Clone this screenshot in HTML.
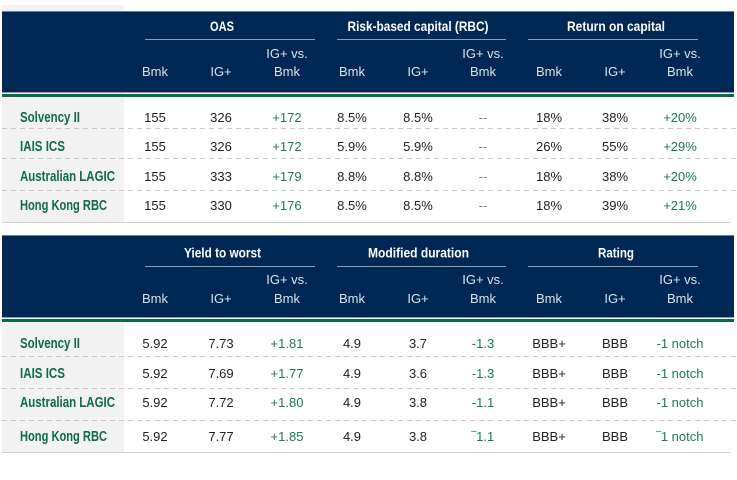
<!DOCTYPE html>
<html><head><meta charset="utf-8"><style>
html,body{margin:0;padding:0;background:#fff;}
svg{display:block;}
text{font-family:"Liberation Sans",Arial,sans-serif;font-size:13px;}
.h{fill:#fff;font-weight:bold;text-anchor:middle;font-size:14px;}
.s{fill:#dde3ec;text-anchor:middle;}
.l{fill:#0e6b4a;font-weight:bold;font-size:14.5px;}
.v{fill:#222;text-anchor:middle;}
.g{fill:#1b7a52;text-anchor:middle;}
.d{fill:#5f8f7c;text-anchor:middle;}
</style></head><body>
<svg width="737" height="480" viewBox="0 0 737 480" xmlns="http://www.w3.org/2000/svg">
<!-- TOP TABLE -->
<rect x="2" y="5" width="122" height="217" fill="#f2f2f2"/>
<rect x="2" y="11" width="732" height="82" fill="#002855"/>
<rect x="2" y="11" width="732" height="1" fill="#6a7f9c"/>
<rect x="2" y="92" width="732" height="1" fill="#8a9bb3"/>
<rect x="2" y="94" width="732" height="3" fill="#0b6b47"/>
<line x1="145" y1="39.5" x2="315" y2="39.5" stroke="#8c9db5" stroke-width="1"/>
<line x1="337" y1="39.5" x2="506" y2="39.5" stroke="#8c9db5" stroke-width="1"/>
<line x1="528" y1="39.5" x2="698" y2="39.5" stroke="#8c9db5" stroke-width="1"/>
<text class="h" x="222" y="31" textLength="24" lengthAdjust="spacingAndGlyphs">OAS</text>
<text class="h" x="418" y="31" textLength="141" lengthAdjust="spacingAndGlyphs">Risk-based capital (RBC)</text>
<text class="h" x="616" y="31" textLength="98" lengthAdjust="spacingAndGlyphs">Return on capital</text>
<text class="s" x="287" y="58">IG+ vs.</text><text class="s" x="483" y="58">IG+ vs.</text><text class="s" x="680" y="58">IG+ vs.</text>
<text class="s" x="155" y="76">Bmk</text><text class="s" x="221" y="76">IG+</text><text class="s" x="287" y="76">Bmk</text>
<text class="s" x="352" y="76">Bmk</text><text class="s" x="418" y="76">IG+</text><text class="s" x="483" y="76">Bmk</text>
<text class="s" x="549" y="76">Bmk</text><text class="s" x="615" y="76">IG+</text><text class="s" x="680" y="76">Bmk</text>

<g stroke="#c8c8c8" stroke-width="1" stroke-dasharray="5 4">
<line x1="2" y1="128.5" x2="737" y2="128.5"/>
<line x1="2" y1="158.5" x2="737" y2="158.5"/>
<line x1="2" y1="190.5" x2="737" y2="190.5"/>
</g>
<line x1="2" y1="222.5" x2="730" y2="222.5" stroke="#cfcfcf" stroke-width="1"/>

<text class="l" x="20" y="122" textLength="60" lengthAdjust="spacingAndGlyphs">Solvency II</text>
<text class="v" x="155" y="122">155</text><text class="v" x="221" y="122">326</text><text class="g" x="287" y="122">+172</text>
<text class="v" x="352" y="122">8.5%</text><text class="v" x="418" y="122">8.5%</text><text class="d" x="483" y="122">--</text>
<text class="v" x="549" y="122">18%</text><text class="v" x="615" y="122">38%</text><text class="g" x="680" y="122">+20%</text>

<text class="l" x="20" y="151" textLength="45" lengthAdjust="spacingAndGlyphs">IAIS ICS</text>
<text class="v" x="155" y="151">155</text><text class="v" x="221" y="151">326</text><text class="g" x="287" y="151">+172</text>
<text class="v" x="352" y="151">5.9%</text><text class="v" x="418" y="151">5.9%</text><text class="d" x="483" y="151">--</text>
<text class="v" x="549" y="151">26%</text><text class="v" x="615" y="151">55%</text><text class="g" x="680" y="151">+29%</text>

<text class="l" x="20" y="181" textLength="95" lengthAdjust="spacingAndGlyphs">Australian LAGIC</text>
<text class="v" x="155" y="181">155</text><text class="v" x="221" y="181">333</text><text class="g" x="287" y="181">+179</text>
<text class="v" x="352" y="181">8.8%</text><text class="v" x="418" y="181">8.8%</text><text class="d" x="483" y="181">--</text>
<text class="v" x="549" y="181">18%</text><text class="v" x="615" y="181">38%</text><text class="g" x="680" y="181">+20%</text>

<text class="l" x="20" y="210" textLength="87" lengthAdjust="spacingAndGlyphs">Hong Kong RBC</text>
<text class="v" x="155" y="210">155</text><text class="v" x="221" y="210">330</text><text class="g" x="287" y="210">+176</text>
<text class="v" x="352" y="210">8.5%</text><text class="v" x="418" y="210">8.5%</text><text class="d" x="483" y="210">--</text>
<text class="v" x="549" y="210">18%</text><text class="v" x="615" y="210">39%</text><text class="g" x="680" y="210">+21%</text>

<!-- BOTTOM TABLE -->
<rect x="2" y="323" width="122" height="129" fill="#f2f2f2"/>
<rect x="2" y="235" width="732" height="83" fill="#002855"/>
<rect x="2" y="235" width="732" height="1" fill="#6a7f9c"/>
<rect x="2" y="317" width="732" height="1" fill="#8a9bb3"/>
<rect x="2" y="319" width="732" height="3" fill="#0b6b47"/>
<line x1="145" y1="266.5" x2="315" y2="266.5" stroke="#8c9db5" stroke-width="1"/>
<line x1="337" y1="266.5" x2="506" y2="266.5" stroke="#8c9db5" stroke-width="1"/>
<line x1="528" y1="266.5" x2="698" y2="266.5" stroke="#8c9db5" stroke-width="1"/>
<text class="h" x="222.5" y="257.5" textLength="77" lengthAdjust="spacingAndGlyphs">Yield to worst</text>
<text class="h" x="418.5" y="257.5" textLength="101" lengthAdjust="spacingAndGlyphs">Modified duration</text>
<text class="h" x="616" y="257.5" textLength="36" lengthAdjust="spacingAndGlyphs">Rating</text>
<text class="s" x="287" y="284">IG+ vs.</text><text class="s" x="483" y="284">IG+ vs.</text><text class="s" x="680" y="284">IG+ vs.</text>
<text class="s" x="155" y="303">Bmk</text><text class="s" x="221" y="303">IG+</text><text class="s" x="287" y="303">Bmk</text>
<text class="s" x="352" y="303">Bmk</text><text class="s" x="418" y="303">IG+</text><text class="s" x="483" y="303">Bmk</text>
<text class="s" x="549" y="303">Bmk</text><text class="s" x="615" y="303">IG+</text><text class="s" x="680" y="303">Bmk</text>

<g stroke="#c8c8c8" stroke-width="1" stroke-dasharray="5 4">
<line x1="2" y1="356.5" x2="737" y2="356.5"/>
<line x1="2" y1="388.5" x2="737" y2="388.5"/>
<line x1="2" y1="420.5" x2="737" y2="420.5"/>
</g>
<line x1="2" y1="452.5" x2="730" y2="452.5" stroke="#cfcfcf" stroke-width="1"/>

<text class="l" x="20" y="348" textLength="60" lengthAdjust="spacingAndGlyphs">Solvency II</text>
<text class="v" x="155" y="348">5.92</text><text class="v" x="221" y="348">7.73</text><text class="g" x="287" y="348">+1.81</text>
<text class="v" x="352" y="348">4.9</text><text class="v" x="418" y="348">3.7</text><text class="g" x="483" y="348">-1.3</text>
<text class="v" x="549" y="348">BBB+</text><text class="v" x="615" y="348">BBB</text><text class="g" x="680" y="348">-1 notch</text>

<text class="l" x="20" y="378" textLength="45" lengthAdjust="spacingAndGlyphs">IAIS ICS</text>
<text class="v" x="155" y="378">5.92</text><text class="v" x="221" y="378">7.69</text><text class="g" x="287" y="378">+1.77</text>
<text class="v" x="352" y="378">4.9</text><text class="v" x="418" y="378">3.6</text><text class="g" x="483" y="378">-1.3</text>
<text class="v" x="549" y="378">BBB+</text><text class="v" x="615" y="378">BBB</text><text class="g" x="680" y="378">-1 notch</text>

<text class="l" x="20" y="407" textLength="95" lengthAdjust="spacingAndGlyphs">Australian LAGIC</text>
<text class="v" x="155" y="407">5.92</text><text class="v" x="221" y="407">7.72</text><text class="g" x="287" y="407">+1.80</text>
<text class="v" x="352" y="407">4.9</text><text class="v" x="418" y="407">3.8</text><text class="g" x="483" y="407">-1.1</text>
<text class="v" x="549" y="407">BBB+</text><text class="v" x="615" y="407">BBB</text><text class="g" x="680" y="407">-1 notch</text>

<text class="l" x="20" y="441" textLength="87" lengthAdjust="spacingAndGlyphs">Hong Kong RBC</text>
<text class="v" x="155" y="441">5.92</text><text class="v" x="221" y="441">7.77</text><text class="g" x="287" y="441">+1.85</text>
<text class="v" x="352" y="441">4.9</text><text class="v" x="418" y="441">3.8</text><text class="g" x="483" y="441">‾1.1</text>
<text class="v" x="549" y="441">BBB+</text><text class="v" x="615" y="441">BBB</text><text class="g" x="680" y="441">‾1 notch</text>
</svg>
</body></html>
